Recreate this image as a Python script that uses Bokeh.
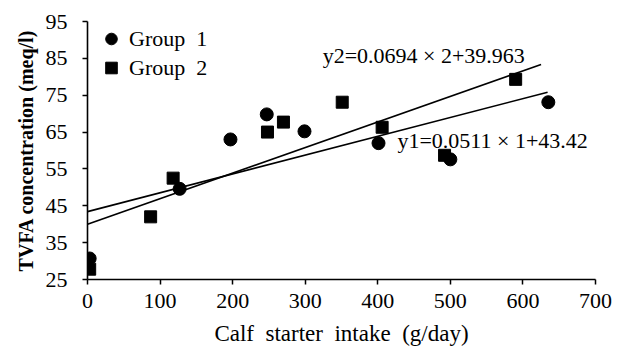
from bokeh.plotting import figure
from bokeh.models import Range1d, FixedTicker, Legend, LegendItem, Label
from bokeh.embed import file_html
from bokeh.resources import INLINE

# Data
g1_x = [3, 127, 197, 247, 299, 401, 500, 635]
g1_y = [30.7, 49.6, 63.0, 69.8, 65.2, 62.0, 57.6, 73.1]
g2_x = [3, 87, 118, 248, 270, 351, 406, 492, 590]
g2_y = [27.8, 42.0, 52.5, 65.0, 67.7, 73.1, 66.3, 58.7, 79.3]

# regression equations shown in the chart
fit1 = dict(slope=0.0511, intercept=43.42, x_end=634)
fit2 = dict(slope=0.0694, intercept=39.963, x_end=625)

x_ticks = [0, 100, 200, 300, 400, 500, 600, 700]
y_ticks = [25, 35, 45, 55, 65, 75, 85, 95]

SERIF = "'Liberation Serif', 'Times New Roman', serif"
NB = "\u00a0"

p = figure(width=613, height=348, output_backend="svg", toolbar_location=None,
           x_range=Range1d(0, 700), y_range=Range1d(25, 95),
           min_border_left=87, min_border_right=18, min_border_top=21, min_border_bottom=68)
p.outline_line_color = None
p.xgrid.visible = False
p.ygrid.visible = False
p.background_fill_color = "white"

for ax in (p.xaxis[0], p.yaxis[0]):
    ax.axis_line_width = 1.6
    ax.axis_line_color = "black"
    ax.major_tick_line_width = 1.5
    ax.major_tick_line_color = "black"
    ax.major_tick_in = 0
    ax.major_tick_out = 5
    ax.minor_tick_line_color = None
    ax.major_label_text_font = SERIF
    ax.major_label_text_font_size = "22px"
    ax.major_label_text_color = "black"

p.xaxis.ticker = FixedTicker(ticks=x_ticks)
p.yaxis.ticker = FixedTicker(ticks=y_ticks)
p.xaxis.major_label_standoff = 9
p.yaxis.major_label_standoff = 15

p.xaxis.axis_label = f"Calf{NB} starter{NB} intake{NB} (g/day)"
p.xaxis.axis_label_text_font = SERIF
p.xaxis.axis_label_text_font_style = "normal"
p.xaxis.axis_label_text_font_size = "23px"
p.xaxis.axis_label_text_color = "black"
p.xaxis.axis_label_standoff = 10

p.yaxis.axis_label = "TVFA concentration (meq/l)"
p.yaxis.axis_label_text_font = SERIF
p.yaxis.axis_label_text_font_style = "bold"
p.yaxis.axis_label_text_font_size = "20px"
p.yaxis.axis_label_text_color = "black"
p.yaxis.axis_label_standoff = 6

# regression lines
for f in (fit1, fit2):
    xs = [0, f["x_end"]]
    ys = [f["intercept"] + f["slope"] * v for v in xs]
    p.line(xs, ys, line_color="black", line_width=1.6)

r1 = p.scatter(g1_x, g1_y, marker="circle", size=13, fill_color="black", line_color="black")
r2 = p.scatter(g2_x, g2_y, marker="square", size=12, fill_color="black", line_color="black")

legend = Legend(items=[LegendItem(label=f"Group{NB} 1", renderers=[r1]),
                       LegendItem(label=f"Group{NB} 2", renderers=[r2])],
                location=(8, 197), padding=0, margin=0, spacing=0,
                glyph_width=32, glyph_height=29, label_standoff=2,
                label_text_font=SERIF, label_text_font_size="22px",
                label_text_color="black",
                border_line_color=None, background_fill_alpha=0)
p.add_layout(legend)

p.add_layout(Label(x=324, y=85.8, text="y2=0.0694 × 2+39.963", text_baseline="middle",
                   text_font=SERIF, text_font_size="22px", text_color="black"))
p.add_layout(Label(x=427, y=62.8, text="y1=0.0511 × 1+43.42", text_baseline="middle",
                   text_font=SERIF, text_font_size="22px", text_color="black"))

open("out.html", "w").write(file_html(p, INLINE))
